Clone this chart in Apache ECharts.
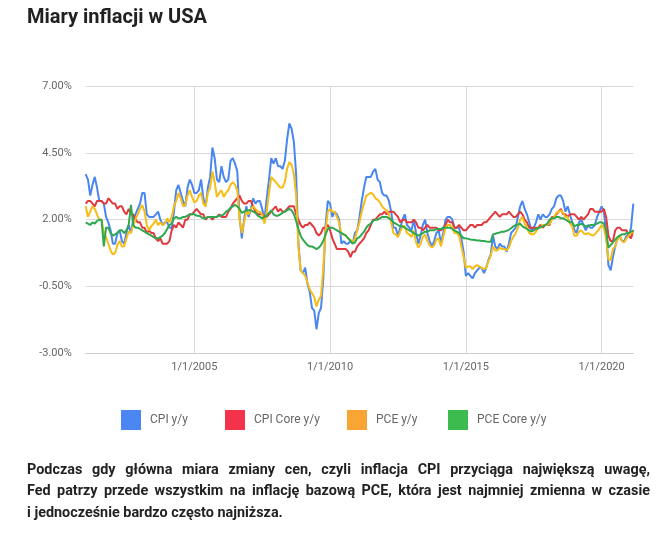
<!DOCTYPE html>
<html><head><meta charset="utf-8">
<script src="https://cdn.jsdelivr.net/npm/echarts@6/dist/echarts.min.js"></script>
<style>html,body{margin:0;padding:0;background:#fff}#c{width:661px;height:536px}</style>
</head><body><div id="c"></div>
<script>
// Monthly, Jan 2001 – Mar 2021, year-over-year %
const cpi = [
3.7,3.5,2.9,3.3,3.6,3.2,2.7,2.7,2.6,2.1,1.9,1.6,
1.1,1.1,1.5,1.6,1.2,1.1,1.5,1.8,1.5,2.0,2.2,2.4,
2.6,3.0,3.0,2.2,2.1,2.1,2.1,2.2,2.3,2.0,1.8,1.9,
1.9,1.7,1.7,2.3,3.1,3.3,3.0,2.7,2.5,3.2,3.5,3.3,
3.0,3.0,3.1,3.5,2.8,2.5,3.2,3.6,4.7,4.3,3.5,3.4,
4.0,3.6,3.4,3.5,4.2,4.3,4.1,3.8,2.1,1.3,2.0,2.5,
2.1,2.4,2.8,2.6,2.7,2.7,2.4,2.0,2.8,3.5,4.3,4.1,
4.3,4.0,4.0,3.9,4.2,5.0,5.6,5.4,4.9,3.7,1.1,0.1,
0.0,0.2,-0.4,-0.7,-1.3,-1.4,-2.1,-1.5,-1.3,-0.2,1.8,2.7,
2.6,2.1,2.3,2.2,2.0,1.1,1.2,1.1,1.1,1.2,1.1,1.5,
1.6,2.1,2.7,3.2,3.6,3.6,3.6,3.8,3.9,3.5,3.4,3.0,
2.9,2.9,2.7,2.3,1.7,1.7,1.4,1.7,2.0,2.2,1.8,1.7,
1.6,2.0,1.5,1.1,1.4,1.8,2.0,1.5,1.2,1.0,1.2,1.5,
1.6,1.1,1.5,2.0,2.1,2.1,2.0,1.7,1.7,1.7,1.3,0.8,
-0.1,0.0,-0.1,-0.2,0.0,0.1,0.2,0.2,0.0,0.2,0.5,0.7,
1.4,1.0,0.9,1.1,1.0,1.0,0.8,1.1,1.5,1.6,1.7,2.1,
2.5,2.7,2.4,2.2,1.9,1.6,1.7,1.9,2.2,2.0,2.2,2.1,
2.1,2.2,2.4,2.5,2.8,2.9,2.9,2.7,2.3,2.5,2.2,1.9,
1.6,1.5,1.9,2.0,1.8,1.6,1.8,1.7,1.7,1.8,2.1,2.3,
2.5,2.3,1.5,0.3,0.1,0.6,1.0,1.3,1.4,1.2,1.2,1.4,
1.4,1.7,2.6];
const cpiCore = [
2.6,2.7,2.7,2.6,2.5,2.7,2.7,2.7,2.6,2.6,2.8,2.7,
2.6,2.6,2.4,2.5,2.5,2.3,2.2,2.4,2.2,2.2,2.0,1.9,
1.9,1.7,1.7,1.5,1.6,1.5,1.5,1.3,1.2,1.3,1.1,1.1,
1.1,1.2,1.6,1.8,1.7,1.9,1.8,1.7,2.0,2.0,2.2,2.2,
2.3,2.4,2.3,2.2,2.2,2.0,2.1,2.1,2.0,2.1,2.1,2.2,
2.1,2.1,2.1,2.3,2.4,2.6,2.7,2.8,2.9,2.7,2.6,2.6,
2.7,2.7,2.5,2.3,2.2,2.2,2.2,2.1,2.1,2.2,2.3,2.4,
2.5,2.3,2.4,2.3,2.3,2.4,2.5,2.5,2.5,2.2,2.0,1.8,
1.7,1.8,1.8,1.9,1.8,1.7,1.5,1.4,1.5,1.7,1.7,1.8,
1.6,1.3,1.1,0.9,0.9,0.9,0.9,0.9,0.8,0.6,0.8,0.8,
1.0,1.1,1.2,1.3,1.5,1.6,1.8,2.0,2.0,2.1,2.2,2.2,
2.3,2.2,2.3,2.3,2.3,2.2,2.1,1.9,2.0,2.0,1.9,1.9,
1.9,2.0,1.9,1.7,1.7,1.6,1.7,1.8,1.7,1.7,1.7,1.7,
1.6,1.6,1.7,1.8,2.0,1.9,1.9,1.7,1.7,1.8,1.7,1.6,
1.6,1.7,1.8,1.8,1.7,1.8,1.8,1.8,1.9,1.9,2.0,2.1,
2.2,2.3,2.2,2.1,2.2,2.2,2.2,2.3,2.2,2.1,2.1,2.2,
2.3,2.2,2.0,1.9,1.7,1.7,1.7,1.7,1.7,1.8,1.7,1.8,
1.8,1.8,2.1,2.1,2.2,2.3,2.4,2.2,2.2,2.1,2.2,2.2,
2.2,2.1,2.0,2.1,2.0,2.1,2.2,2.4,2.4,2.3,2.3,2.3,
2.3,2.4,2.1,1.4,1.2,1.2,1.6,1.7,1.7,1.6,1.6,1.6,
1.4,1.3,1.6];
const pce = [
2.5,2.1,2.3,2.5,2.4,2.2,2.0,2.0,1.5,1.35,1.1,0.85,
0.7,0.75,1.05,1.2,1.0,1.0,1.3,1.55,1.5,1.8,2.0,2.2,
2.4,2.55,2.3,1.8,1.6,1.75,1.85,2.0,1.8,1.9,1.8,1.85,
2.05,1.9,2.1,2.5,2.7,3.0,2.8,2.5,2.55,2.9,3.1,2.85,
2.65,2.7,2.9,3.0,2.6,2.5,3.0,3.2,3.8,3.4,2.85,3.0,
3.1,2.85,3.0,3.1,3.3,3.4,3.3,3.1,2.0,1.5,1.9,2.3,
2.2,2.4,2.5,2.4,2.3,2.3,2.2,1.85,2.3,3.0,3.6,3.5,
3.4,3.3,3.2,3.2,3.4,3.9,4.15,4.05,3.7,2.9,1.0,0.1,
0.0,-0.1,-0.35,-0.6,-0.75,-0.9,-1.25,-1.0,-0.85,0.2,1.6,2.3,
2.4,2.3,2.3,2.1,1.9,1.45,1.45,1.4,1.3,1.25,1.15,1.3,
1.6,1.9,2.3,2.6,2.9,2.95,3.0,2.95,2.8,2.75,2.65,2.5,
2.4,2.35,2.2,1.9,1.5,1.45,1.35,1.55,1.75,1.75,1.5,1.45,
1.35,1.6,1.15,0.95,1.1,1.35,1.45,1.2,1.05,0.95,1.05,1.25,
1.3,1.0,1.35,1.7,1.8,1.8,1.7,1.5,1.5,1.4,1.0,0.6,
0.2,0.25,0.25,0.15,0.25,0.3,0.25,0.2,0.15,0.2,0.45,0.65,
1.0,0.85,0.85,0.95,0.9,0.9,0.85,0.95,1.2,1.35,1.5,1.7,
2.0,2.1,1.85,1.7,1.5,1.45,1.45,1.55,1.7,1.7,1.8,1.8,
1.8,1.85,2.0,2.1,2.25,2.3,2.35,2.25,2.1,2.1,1.85,1.75,
1.4,1.4,1.55,1.6,1.5,1.45,1.5,1.45,1.4,1.45,1.55,1.65,
1.8,1.7,1.3,0.5,0.5,0.9,1.0,1.25,1.4,1.2,1.15,1.3,
1.4,1.5,1.55];
const pceCore = [
1.9,1.85,1.8,1.9,1.85,1.95,2.0,2.0,1.0,1.7,1.7,1.5,
1.4,1.45,1.5,1.6,1.6,1.5,1.6,1.8,2.55,1.8,1.7,1.7,
1.65,1.6,1.55,1.5,1.45,1.4,1.35,1.3,1.3,1.35,1.4,1.5,
1.65,1.8,1.85,2.05,2.1,2.05,2.05,2.1,2.1,2.15,2.2,2.2,
2.2,2.15,2.15,2.1,2.05,2.05,2.1,2.1,2.1,2.1,2.1,2.15,
2.15,2.2,2.3,2.35,2.45,2.5,2.55,2.5,2.4,2.25,2.3,2.35,
2.35,2.35,2.3,2.25,2.15,2.1,2.05,2.1,2.15,2.25,2.35,2.2,
2.15,2.15,2.2,2.25,2.3,2.35,2.4,2.35,2.2,1.95,1.65,1.4,
1.25,1.15,1.05,1.0,1.0,0.95,0.9,0.95,1.05,1.2,1.45,1.65,
1.7,1.7,1.65,1.6,1.55,1.5,1.45,1.4,1.3,1.2,1.1,1.15,
1.3,1.35,1.45,1.55,1.7,1.8,1.85,1.95,2.0,2.0,2.05,2.1,
2.1,2.1,2.05,2.0,1.9,1.85,1.8,1.75,1.75,1.7,1.65,1.6,
1.55,1.5,1.45,1.4,1.45,1.5,1.55,1.55,1.6,1.6,1.6,1.65,
1.65,1.65,1.7,1.7,1.7,1.7,1.65,1.6,1.55,1.5,1.4,1.3,
1.3,1.28,1.26,1.25,1.24,1.22,1.22,1.2,1.2,1.18,1.17,1.17,
1.45,1.47,1.5,1.52,1.55,1.55,1.58,1.62,1.68,1.75,1.8,1.82,
1.85,1.75,1.7,1.65,1.6,1.55,1.6,1.65,1.68,1.72,1.75,1.8,
1.85,2.0,2.05,2.05,2.1,2.1,2.05,2.05,2.0,1.95,1.9,1.9,
1.75,1.8,1.8,1.85,1.8,1.75,1.75,1.8,1.8,1.82,1.85,1.9,
1.9,1.85,1.6,0.95,1.05,1.15,1.25,1.35,1.4,1.45,1.45,1.5,
1.5,1.55,1.6];

const seriesNames = ['CPI y/y', 'CPI Core y/y', 'PCE y/y', 'PCE Core y/y'];
const startYear = 2001, nMonths = cpi.length;
const categories = [];
for (let k = 0; k < nMonths; k++) {
  const y = startYear + Math.floor(k / 12), m = (k % 12) + 1;
  categories.push(m + '/1/' + y);
}
const labelledYears = ['1/1/2005', '1/1/2010', '1/1/2015', '1/1/2020'];

const title = 'Miary inflacji w USA';
const paragraph = [
  'Podczas gdy główna miara zmiany cen, czyli inflacja CPI przyciąga największą uwagę,',
  'Fed patrzy przede wszystkim na inflację bazową PCE, która jest najmniej zmienna w czasie',
  'i jednocześnie bardzo często najniższa.'
];

const lineColors = ['#4a86f0', '#e0393e', '#f5bd16', '#2fa84f'];
const legendColors = ['#4a87f3', '#f2334b', '#f9a533', '#3ebb4f'];
const legendLefts = [121, 225, 347, 448];

// justified paragraph as ECharts graphic text
const paraFont = 'bold 14.4px Roboto';
const ctx = document.createElement('canvas').getContext('2d');
ctx.font = paraFont;
const paraLeft = 27, paraRight = 650, paraTop = 470, paraLH = 21.5;
const graphics = [];
paragraph.forEach((line, li) => {
  const yy = paraTop + li * paraLH;
  if (li === paragraph.length - 1) {
    graphics.push({type: 'text', x: paraLeft, y: yy, style: {text: line, font: paraFont, fill: '#222', textAlign: 'left', textVerticalAlign: 'middle'}});
    return;
  }
  const words = line.split(' ');
  const ws = words.map(w => ctx.measureText(w).width);
  const sum = ws.reduce((a, b) => a + b, 0);
  const gap = (paraRight - paraLeft - sum) / (words.length - 1);
  let xx = paraLeft;
  words.forEach((w, wi) => {
    graphics.push({type: 'text', x: xx, y: yy, style: {text: w, font: paraFont, fill: '#222', textAlign: 'left', textVerticalAlign: 'middle'}});
    xx += ws[wi] + gap;
  });
});

const chart = echarts.init(document.getElementById('c'), null, {renderer: 'canvas'});
chart.setOption({
  animation: false,
  backgroundColor: '#fff',
  title: {text: title, left: 27, top: 8, padding: 0,
    textStyle: {fontFamily: 'Roboto', fontWeight: 'bold', fontSize: 20, color: '#212121'}},
  legend: seriesNames.map((n, i) => ({
    left: legendLefts[i], top: 410, padding: 0, itemWidth: 20, itemHeight: 20,
    icon: 'rect',
    textStyle: {fontFamily: 'Roboto', fontSize: 12, color: '#666', padding: [0, 0, 0, 4]},
    data: [{name: n, itemStyle: {color: legendColors[i]}}]
  })),
  grid: {left: 85.7, right: 27.7, top: 86, bottom: 182.7, containLabel: false},
  xAxis: {
    type: 'category', data: categories, boundaryGap: false,
    axisLine: {onZero: false, lineStyle: {color: '#cccccc', width: 1}},
    axisTick: {show: false},
    axisLabel: {
      interval: (idx, val) => labelledYears.indexOf(val) >= 0,
      color: '#666', fontFamily: 'Roboto', fontSize: 11, margin: 8
    },
    splitLine: {show: true, interval: (idx, val) => labelledYears.indexOf(val) >= 0,
      lineStyle: {color: '#d9d9d9', width: 1}}
  },
  yAxis: {
    type: 'value', min: -3, max: 7, interval: 2.5,
    axisLine: {show: false}, axisTick: {show: false},
    axisLabel: {formatter: v => v.toFixed(2) + '%', color: '#666', fontFamily: 'Roboto', fontSize: 11, margin: 14},
    splitLine: {lineStyle: {color: '#d9d9d9', width: 1}}
  },
  series: [cpi, cpiCore, pce, pceCore].map((d, i) => ({
    name: seriesNames[i], type: 'line', data: d, showSymbol: false, symbol: 'none',
    lineStyle: {width: 2, color: lineColors[i]}, itemStyle: {color: lineColors[i]}
  })),
  graphic: graphics
});
</script></body></html>
